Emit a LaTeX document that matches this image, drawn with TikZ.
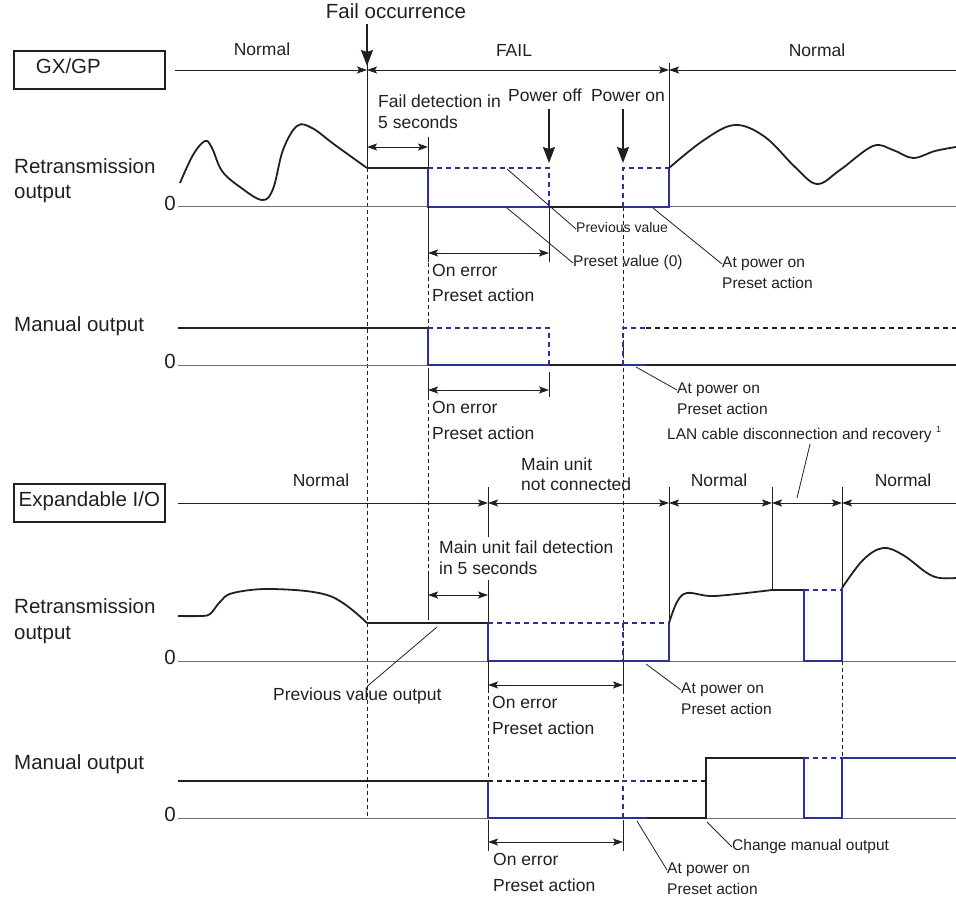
\documentclass[tikz,border=0pt]{standalone}
\usepackage{fontspec}
\setmainfont{Liberation Sans}
\usetikzlibrary{arrows.meta}

\definecolor{sigblue}{RGB}{43,50,148}
\definecolor{ink}{RGB}{35,31,32}
\definecolor{zgray}{RGB}{110,110,110}

\tikzset{
  txt/.style={text=ink, inner sep=0pt, text height=0.72em, text depth=0pt},
  lbl/.style={txt, font=\fontsize{20.5}{24}\selectfont},
  mid/.style={txt, font=\fontsize{17.5}{21}\selectfont},
  sml/.style={txt, font=\fontsize{15.5}{18}\selectfont},
  tny/.style={txt, font=\fontsize{14}{17}\selectfont},
  boxed/.style={draw=ink, line width=1.8pt, minimum height=38pt, anchor=west},
  tickln/.style={ink, line width=0.9pt},
  guide/.style={ink, line width=0.8pt, dash pattern=on 4pt off 3pt},
  zeroln/.style={zgray, line width=1pt},
  sig/.style={ink, line width=1.8pt, line join=round},
  sigthin/.style={ink, line width=1.2pt},
  sigbold/.style={ink, line width=2.6pt},
  blu/.style={sigblue, line width=2pt},
  bludash/.style={sigblue, line width=2pt, dash pattern=on 5pt off 4pt},
  blkdash/.style={ink, line width=1.6pt, dash pattern=on 5pt off 4pt},
  lead/.style={ink, line width=0.8pt},
  tip/.tip={Stealth[length=10pt,width=7pt,inset=2pt]},
  dimLR/.style={ink, line width=0.9pt, tip-tip},
  dimR/.style={ink, line width=0.9pt, -tip},
  dimL/.style={ink, line width=0.9pt, tip-},
  pwr/.style={ink, line width=1.6pt, -{Stealth[length=16pt,width=12pt,inset=2pt]}}
}

\begin{document}
\begin{tikzpicture}[x=1pt,y=-1pt]
\useasboundingbox (0,0) rectangle (956,901);

%%%%%%%%%%%%%%%% GX/GP
\node[boxed, lbl, text width=107pt, inner xsep=22pt, align=left] (gx) at (13,70) {GX/GP};
\draw[dimR] (175,70) -- (367,70);   % state line
\draw[dimLR] (367,70) -- (669,70);
\draw[dimL] (669,70) -- (956,70);
\draw[tickln] (367,63) -- (367,168);
\draw[tickln] (669,63) -- (669,169);
\node[mid] (nrmA) at (262,52) {Normal};
\node[mid] (fail) at (514,53) {FAIL};
\node[mid] (nrmB) at (817,53) {Normal};

\node[lbl] (focc) at (396,15) {Fail occurrence};
\coordinate (foTip) at (367,66);
\draw[pwr] (focc.south -| foTip) ++(0,5) -- (foTip);

% guides
\draw[guide] (367,168) -- (367,818);
\draw[guide] (428,207) -- (428,573);
\draw[guide] (623,207) -- (623,781);
\draw[guide] (488,661) -- (488,781);
\draw[guide] (842,661) -- (842,758);

% retransmission output
\node[lbl, anchor=west] (rtA) at (14,170) {Retransmission};
\node[lbl, anchor=west] (rtAb) at (14,195) {output};
\node[lbl, anchor=east] (zA) at (176,207) {0};
\draw[zeroln] (zA.east) ++(2,0) -- (956,207);
\draw[sig] plot[smooth, tension=0.6] coordinates {(180,183) (193,155) (205,141) (212,148) (222,171) (240,187) (262,200) (273,189) (283,150) (297,126) (312,128) (335,145) (367,168)};
\draw[sigbold] (367,168) -- (428,168);
\draw[blu] (428,168) -- (428,207) -- (549,207);
\draw[bludash] (428,168) -- (549,168) -- (549,207);
\draw[sigthin] (549,207) -- (623,207);
\draw[bludash] (623,207) -- (623,168) -- (669,168);
\draw[blu] (623,207) -- (669,207) -- (669,168);
\draw[sig] plot[smooth, tension=0.6] coordinates {(669,168) (704,140) (735,125) (765,137) (795,167) (817,184) (840,170) (873,146) (893,150) (913,158) (935,151) (956,147)};

\node[mid, anchor=west] (fdA) at (378,104) {Fail detection in};
\node[mid, anchor=west] (fdB) at (378,125) {5 seconds};
\draw[tickln] (428,137) -- (428,168);
\draw[dimLR] (367,147) -- (428,147);

\node[mid] (poff) at (545,98) {Power off};
\node[mid] (pon) at (628,98) {Power on};
\coordinate (poffTip) at (549,163);
\coordinate (ponTip) at (623,163);
\draw[pwr] (poff.south -| poffTip) ++(0,7) -- (poffTip);
\draw[pwr] (pon.south -| ponTip) ++(0,7) -- (ponTip);

\foreach \x in {428,549} {
  \draw[tickln] (\x,207) -- (\x,262);
  \draw[tickln] (\x,372) -- (\x,397);
}
\draw[dimLR] (428,253) -- (549,253);
\node[mid, anchor=west] (oeA) at (432,273) {On error};
\node[mid, anchor=west] (oeAb) at (432,298) {Preset action};

\node[tny, anchor=west] (prev) at (576,229) {Previous value};
\node[sml, anchor=west] (pset) at (573,263) {Preset value (0)};
\draw[lead] (507,169) -- (prev.west);
\draw[lead] (507,208) -- (pset.west);
\node[sml, anchor=west] (apA) at (722,264) {At power on};
\node[sml, anchor=west] (apAb) at (722,285) {Preset action};
\draw[lead] (653,208) -- (apA.west);

% manual output
\node[lbl, anchor=west] (moA) at (14,328) {Manual output};
\node[lbl, anchor=east] (zB) at (176,365) {0};
\draw[zeroln] (zB.east) ++(2,0) -- (956,365);
\draw[sigthin] (178,328) -- (367,328);
\draw[sigbold] (367,328) -- (428,328);
\draw[blu] (428,328) -- (428,365) -- (549,365);
\draw[bludash] (428,328) -- (549,328) -- (549,365);
\draw[sigthin] (549,365) -- (623,365);
\draw[bludash] (623,365) -- (623,328) -- (646,328);
\draw[blkdash] (646,328) -- (956,328);
\draw[blu] (623,365) -- (646,365);
\draw[sigbold] (646,365) -- (956,365);

\draw[dimLR] (428,390) -- (549,390);
\node[mid, anchor=west] (oeB) at (432,410) {On error};
\node[mid, anchor=west] (oeBb) at (432,436) {Preset action};
\node[sml, anchor=west] (apB) at (677,390) {At power on};
\node[sml, anchor=west] (apBb) at (677,411) {Preset action};
\draw[lead] (636,367) -- (apB.west);

%%%%%%%%%%%%%%%% Expandable I/O
\node[boxed, lbl, minimum width=151pt, inner xsep=0pt] (exio) at (13,503) {Expandable I/O};
\draw[dimR] (178,503) -- (488,503);
\draw[dimLR] (488,503) -- (669,503);
\draw[dimLR] (669,503) -- (772,503);
\draw[dimLR] (772,503) -- (842,503);
\draw[dimL] (842,503) -- (956,503);
\draw[tickln] (488,487) -- (488,537);
\draw[tickln] (488,580) -- (488,623);
\draw[tickln] (669,487) -- (669,623);
\draw[tickln] (772,487) -- (772,590);
\draw[tickln] (842,487) -- (842,588);
\node[mid] (nrmC) at (321,483) {Normal};
\node[mid, anchor=west] (mnA) at (521,467) {Main unit};
\node[mid, anchor=west] (mnB) at (521,487) {not connected};
\node[mid] (nrmD) at (719,483) {Normal};
\node[mid] (nrmE) at (903,483) {Normal};
\node[sml, anchor=west] (lan) at (667,436) {LAN cable disconnection and recovery \raisebox{0.45em}{\fontsize{9}{10}\selectfont 1}};
\draw[lead] (797,498) -- ([xshift=6pt,yshift=-4pt]lan.south);

\node[mid, anchor=west] (mfA) at (439,550) {Main unit fail detection};
\node[mid, anchor=west] (mfB) at (439,571) {in 5 seconds};
\draw[tickln] (428,573) -- (428,620);
\draw[dimLR] (428,595) -- (488,595);

% retransmission output
\node[lbl, anchor=west] (rtB) at (14,610) {Retransmission};
\node[lbl, anchor=west] (rtBb) at (14,636) {output};
\node[lbl, anchor=east] (zC) at (176,661) {0};
\draw[zeroln] (zC.east) ++(2,0) -- (956,661);
\draw[sig] plot[smooth, tension=0.6] coordinates {(178,616) (200,616) (210,614) (220,602) (233,593) (273,589) (330,596) (367,623)};
\draw[sigbold] (367,623) -- (488,623);
\draw[blu] (488,623) -- (488,661) -- (669,661) -- (669,623);
\draw[bludash] (488,623) -- (669,623);
\draw[bludash] (623,623) -- (623,661);
\draw[sig] plot[smooth, tension=0.6] coordinates {(669,623) (677,602) (687,593) (710,596) (737,594) (772,590)};
\draw[sig] (772,590) -- (804,590);
\draw[blu] (804,590) -- (804,661) -- (842,661) -- (842,588);
\draw[bludash] (804,590) -- (842,590);
\draw[sig] plot[smooth, tension=0.6] coordinates {(842,588) (863,560) (883,548) (903,555) (927,573) (940,578) (956,578)};

\node[mid, anchor=west] (pvo) at (273,697) {Previous value output};
\draw[lead] (437,627) -- ([xshift=10pt,yshift=7pt]pvo.north);
\draw[tickln] (488,661) -- (488,692);
\draw[tickln] (623,663) -- (623,690);
\draw[dimLR] (488,685) -- (623,685);
\node[mid, anchor=west] (oeC) at (492,705) {On error};
\node[mid, anchor=west] (oeCb) at (492,731) {Preset action};
\node[sml, anchor=west] (apC) at (681,690) {At power on};
\node[sml, anchor=west] (apCb) at (681,711) {Preset action};
\draw[lead] (646,664) -- (apC.west);

% manual output
\node[lbl, anchor=west] (moB) at (14,766) {Manual output};
\node[lbl, anchor=east] (zD) at (176,818) {0};
\draw[zeroln] (zD.east) ++(2,0) -- (956,818);
\draw[sigthin] (178,781) -- (367,781);
\draw[sigbold] (367,781) -- (488,781);
\draw[blkdash] (488,781) -- (623,781);
\draw[blu] (488,781) -- (488,818) -- (647,818);
\draw[bludash] (623,818) -- (623,781) -- (647,781);
\draw[blkdash] (647,781) -- (706,781);
\draw[sigbold] (647,818) -- (706,818) -- (706,758) -- (804,758);
\draw[blu] (804,758) -- (804,818) -- (842,818) -- (842,758) -- (956,758);
\draw[bludash] (804,758) -- (842,758);

\foreach \x in {488,623}
  \draw[tickln] (\x,820) -- (\x,851);
\draw[dimLR] (488,842) -- (623,842);
\node[mid, anchor=west] (oeD) at (493,862) {On error};
\node[mid, anchor=west] (oeDb) at (493,888) {Preset action};
\node[sml, anchor=west] (apD) at (667,870) {At power on};
\node[sml, anchor=west] (apDb) at (667,891) {Preset action};
\draw[lead] (637,821) -- (apD.west);
\node[sml, anchor=west] (chg) at (732,847) {Change manual output};
\draw[lead] (707,822) -- (chg.west);
\end{tikzpicture}
\end{document}
